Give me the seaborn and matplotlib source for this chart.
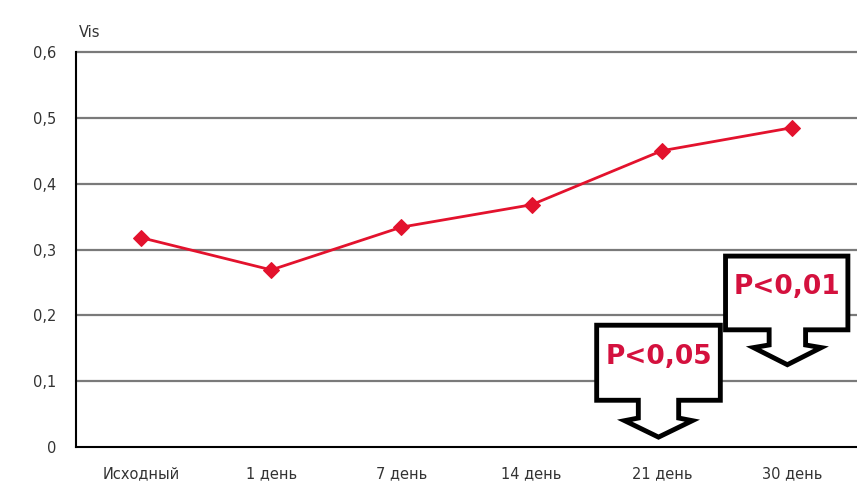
import numpy as np
import pandas as pd
import seaborn as sns
import matplotlib.pyplot as plt
from matplotlib.patches import Polygon

# данные
periods = ['Исходный', '1 день', '7 день', '14 день', '21 день', '30 день']
vis = [0.318, 0.269, 0.334, 0.368, 0.450, 0.485]
y_ticks = [0, 0.1, 0.2, 0.3, 0.4, 0.5, 0.6]
y_labels = ['0', '0,1', '0,2', '0,3', '0,4', '0,5', '0,6']
p_labels = ['P<0,05', 'P<0,01']

df = pd.DataFrame({'period': periods, 'vis': vis})

sns.set_style('white')
plt.rcParams['font.family'] = ['DejaVu Sans']

fig = plt.figure(figsize=(8.57, 4.93), dpi=100)
ax = fig.add_axes([0.0887, 0.0933, 0.9113, 0.8012])

sns.lineplot(data=df, x='period', y='vis', sort=False, color='#e3122d',
             linewidth=2, marker='D', markersize=8, markeredgecolor='#e3122d', ax=ax, zorder=5)

ax.set_xlim(-0.5, 5.5)
ax.set_ylim(0, 0.6)
ax.set_yticks(y_ticks)
ax.set_yticklabels(y_labels)
ax.set_xticks(range(len(periods)))
ax.set_xticklabels(periods)
ax.set_xticks(np.arange(-0.5, 6, 1), minor=True)
ax.tick_params(axis='x', which='major', length=0, pad=14, labelsize=10.5, labelcolor='#333333')
ax.tick_params(axis='x', which='minor', length=5, width=1.3, color='black', direction='out')
ax.tick_params(axis='y', length=6, width=1.3, color='black', direction='out', pad=8,
               labelsize=10.5, labelcolor='#333333')
ax.set_xlabel('')
ax.set_ylabel('')

for y in y_ticks[1:]:
    ax.axhline(y, color='#7a7a7a', linewidth=1.6, zorder=1, clip_on=False)

for side in ['top', 'right']:
    ax.spines[side].set_visible(False)
for side in ['left', 'bottom']:
    ax.spines[side].set_color('black')
    ax.spines[side].set_linewidth(1.5)

ax.text(0.004, 1.03, 'Vis', transform=ax.transAxes, fontsize=10.5, color='#333333',
        ha='left', va='bottom')


def callout(left, right, top, bottom, cx, stem, wing, stem_y, tip_y, label):
    pts = [(left, top), (right, top), (right, bottom), (cx + stem, bottom),
           (cx + stem, stem_y), (cx + wing, stem_y - 0.004), (cx, tip_y),
           (cx - wing, stem_y - 0.004), (cx - stem, stem_y), (cx - stem, bottom),
           (left, bottom)]
    ax.add_patch(Polygon(pts, closed=True, facecolor='white', edgecolor='black',
                         linewidth=3.5, joinstyle='miter', zorder=6, clip_on=False))
    ax.text((left + right) / 2, bottom + (top - bottom) * 0.58, label,
            family='DejaVu Sans', fontweight='bold',
            fontsize=19, color='#d4113e', ha='center', va='center', zorder=7)


callout(3.5, 4.45, 0.185, 0.071, 3.975, 0.155, 0.26, 0.044, 0.015, p_labels[0])
callout(4.49, 5.43, 0.290, 0.178, 4.965, 0.14, 0.26, 0.155, 0.125, p_labels[1])

fig.savefig('out.png', dpi=100)
